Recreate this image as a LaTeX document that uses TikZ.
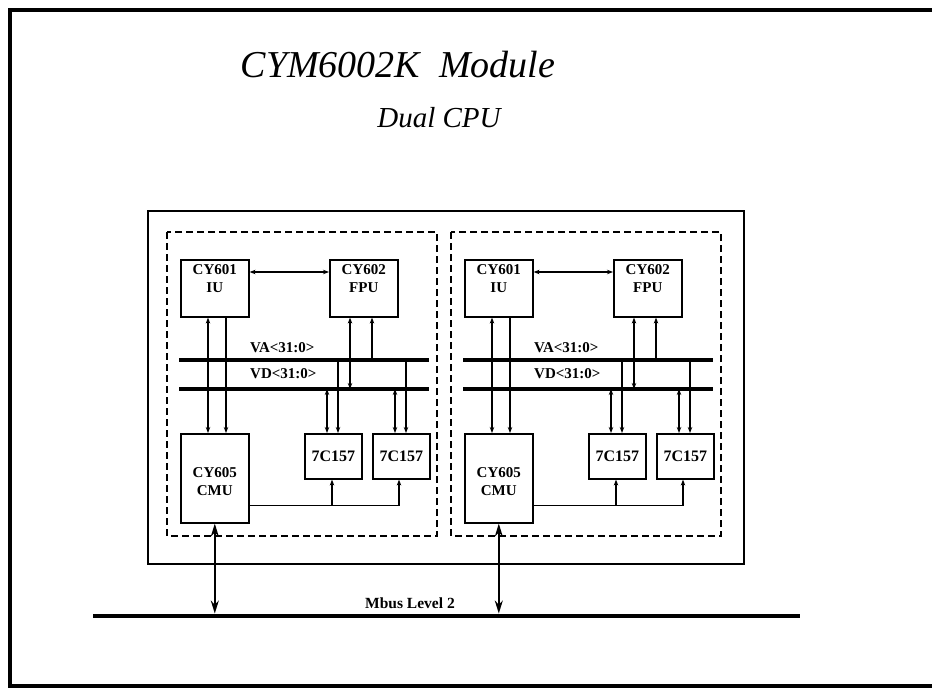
\documentclass[tikz,border=0pt]{standalone}
\usepackage{fontspec}
\usepackage{graphicx}
\setmainfont{Liberation Serif}
\usetikzlibrary{arrows.meta,calc}
\begin{document}
\begin{tikzpicture}[x=1pt,y=-1pt,
  box/.style={draw,line width=1.6pt,anchor=north west,inner sep=0pt},
  lbl/.style={font=\bfseries\fontsize{15}{18}\selectfont,align=center,inner sep=0pt},
  buslbl/.style={font=\bfseries\fontsize{15}{16}\selectfont,anchor=base west,inner sep=0pt},
  bus/.style={line width=3.2pt},
  conn/.style={line width=1.3pt},
  grp/.style={line width=1.4pt,dash pattern=on 7pt off 4pt},
  outer/.style={line width=1.5pt},
  arrA/.style={-{Stealth[length=6pt,width=4.5pt]}},
  arrB/.style={{Stealth[length=6pt,width=4.5pt]}-{Stealth[length=6pt,width=4.5pt]}},
  arrM/.style={{Stealth[length=13pt,width=8pt]}-{Stealth[length=13pt,width=8pt]}},
]
\useasboundingbox (0,0) rectangle (932,688);
% page frame
\draw[line width=4pt] (932,10) -- (10,10) -- (10,686) -- (932,686);
% title
\node[font=\itshape\fontsize{38}{42}\selectfont,anchor=base,inner sep=0pt] (title) at (398,77) {CYM6002K\hspace{0.5em}Module};
\node[font=\itshape\fontsize{29}{32}\selectfont,anchor=base,inner sep=0pt] (sub) at (439,127) {Dual CPU};
% outer module box
\draw[outer] (148,211) rectangle (744,564);
% Mbus
\coordinate (mL) at (93,616);
\coordinate (mR) at (800,616);
\draw[line width=4pt] (mL) -- (mR);
\node[font=\bfseries\fontsize{15.5}{17}\selectfont,anchor=base,inner sep=0pt] (mlbl) at (410,608) {Mbus Level 2};
\foreach \dx in {0,284}{
  \draw[grp] (167+\dx,232) rectangle (437+\dx,536);
  \node[box,minimum width=68pt,minimum height=57pt] (iu\dx) at (180+\dx,259) {};
  \node[lbl] (iut\dx) at ($(iu\dx.center)+(0,-10)$) {CY601\\IU};
  \node[box,minimum width=68pt,minimum height=57pt] (fpu\dx) at (329+\dx,259) {};
  \node[lbl] (fput\dx) at ($(fpu\dx.center)+(0,-10)$) {CY602\\FPU};
  \node[box,minimum width=68pt,minimum height=89pt] (cmu\dx) at (180+\dx,433) {};
  \node[lbl] (cmut\dx) at ($(cmu\dx.center)+(0,3)$) {CY605\\CMU};
  \node[box,minimum width=57pt,minimum height=45pt,lbl,font=\bfseries\fontsize{16}{18}\selectfont] (ra\dx) at (304+\dx,433) {7C157};
  \node[box,minimum width=57pt,minimum height=45pt,lbl,font=\bfseries\fontsize{16}{18}\selectfont] (rb\dx) at (372+\dx,433) {7C157};
  % buses
  \coordinate (vaL\dx) at (179+\dx,360);
  \coordinate (vaR\dx) at (429+\dx,360);
  \coordinate (vdL\dx) at (179+\dx,389);
  \coordinate (vdR\dx) at (429+\dx,389);
  \draw[bus] (vaL\dx) -- (vaR\dx);
  \draw[bus] (vdL\dx) -- (vdR\dx);
  \node[buslbl] (val\dx) at (250+\dx,352) {VA<31:0>};
  \node[buslbl] (vdl\dx) at (250+\dx,378) {VD<31:0>};
  % IU <-> FPU
  \draw[conn,arrB] ($(iu\dx.north east)+(0,13)$) -- ($(fpu\dx.north west)+(0,13)$);
  % IU <-> CMU
  \draw[conn,arrB] ($(iu\dx.south west)+(28,0)$) -- ($(cmu\dx.north west)+(28,0)$);
  \draw[conn,arrA] ($(iu\dx.south west)+(46,0)$) -- ($(cmu\dx.north west)+(46,0)$);
  % FPU to buses
  \coordinate (f1\dx) at ($(fpu\dx.south west)+(21,0)$);
  \coordinate (f2\dx) at ($(fpu\dx.south west)+(43,0)$);
  \draw[conn,arrB] (f1\dx) -- (f1\dx |- vdL\dx);
  \draw[conn,arrA] (f2\dx |- vaL\dx) -- (f2\dx);
  % 7C157 to buses
  \coordinate (a1\dx) at ($(ra\dx.north west)+(23,0)$);
  \coordinate (a2\dx) at ($(ra\dx.north west)+(34,0)$);
  \coordinate (b1\dx) at ($(rb\dx.north west)+(23,0)$);
  \coordinate (b2\dx) at ($(rb\dx.north west)+(34,0)$);
  \draw[conn,arrB] (a1\dx |- vdL\dx) -- (a1\dx);
  \draw[conn,arrA] (a2\dx |- vaL\dx) -- (a2\dx);
  \draw[conn,arrB] (b1\dx |- vdL\dx) -- (b1\dx);
  \draw[conn,arrA] (b2\dx |- vaL\dx) -- (b2\dx);
  % CMU to 7C157
  \coordinate (c1\dx) at ($(cmu\dx.south east)+(0,-18)$);
  \coordinate (a3\dx) at ($(ra\dx.south west)+(28,0)$);
  \coordinate (b3\dx) at ($(rb\dx.south west)+(27,0)$);
  \draw[conn,arrA] (c1\dx) -- (c1\dx -| b3\dx) -- (b3\dx);
  \draw[conn,arrA] (c1\dx -| a3\dx) -- (a3\dx);
  % CMU <-> Mbus
  \draw[line width=1.8pt,arrM,shorten >=2.5pt] (cmu\dx.south) -- (cmu\dx.south |- mL);
}
\end{tikzpicture}
\end{document}
